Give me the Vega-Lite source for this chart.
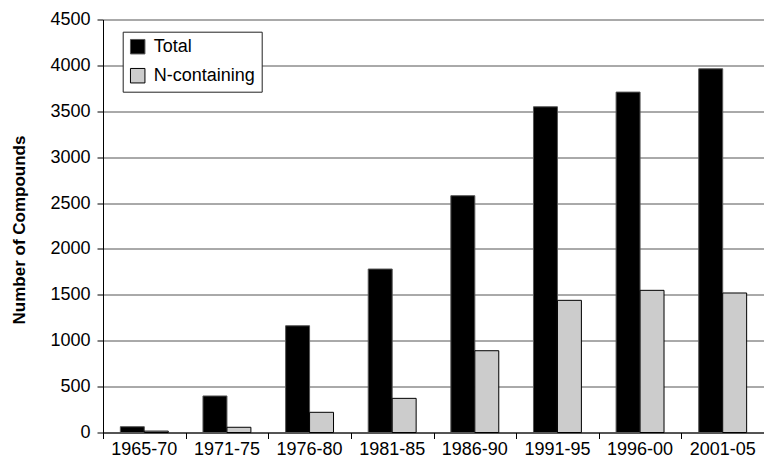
{
  "$schema": "https://vega.github.io/schema/vega-lite/v6.json",
  "width": 661,
  "height": 413,
  "autosize": "none",
  "padding": {"left": 103, "top": 19.5, "right": 0, "bottom": 29.5},
  "background": "white",
  "config": {
    "font": "Liberation Sans",
    "view": {"stroke": null},
    "axis": {"labelFont": "Liberation Sans", "labelColor": "black", "titleColor": "black"}
  },
  "data": {
    "values": [
      {"period": "1965-70", "series": "Total", "count": 63},
      {"period": "1965-70", "series": "N-containing", "count": 15},
      {"period": "1971-75", "series": "Total", "count": 398},
      {"period": "1971-75", "series": "N-containing", "count": 57},
      {"period": "1976-80", "series": "Total", "count": 1163},
      {"period": "1976-80", "series": "N-containing", "count": 220},
      {"period": "1981-85", "series": "Total", "count": 1781},
      {"period": "1981-85", "series": "N-containing", "count": 372},
      {"period": "1986-90", "series": "Total", "count": 2580},
      {"period": "1986-90", "series": "N-containing", "count": 891},
      {"period": "1991-95", "series": "Total", "count": 3549},
      {"period": "1991-95", "series": "N-containing", "count": 1440},
      {"period": "1996-00", "series": "Total", "count": 3709},
      {"period": "1996-00", "series": "N-containing", "count": 1549},
      {"period": "2001-05", "series": "Total", "count": 3963},
      {"period": "2001-05", "series": "N-containing", "count": 1520}
    ]
  },
  "layer": [
    {
      "mark": {"type": "bar", "strokeWidth": 1},
      "encoding": {
        "x": {
          "field": "period",
          "type": "nominal",
          "sort": null,
          "scale": {"paddingInner": 0.42, "paddingOuter": 0.21},
          "axis": {
            "orient": "bottom",
            "title": null,
            "labelAngle": 0,
            "labelFontSize": 18,
            "labelPadding": 8,
            "ticks": false,
            "tickSize": 6,
            "domain": true,
            "domainColor": "black",
            "domainWidth": 1
          }
        },
        "xOffset": {
          "field": "series",
          "type": "nominal",
          "sort": ["Total", "N-containing"],
          "scale": {"paddingInner": 0, "paddingOuter": 0}
        },
        "y": {
          "field": "count",
          "type": "quantitative",
          "scale": {"domain": [0, 4500], "nice": false},
          "axis": {
            "values": [0, 500, 1000, 1500, 2000, 2500, 3000, 3500, 4000, 4500],
            "format": "d",
            "grid": true,
            "gridColor": "#555555",
            "gridWidth": 1,
            "domainColor": "black",
            "tickColor": "black",
            "tickSize": 6,
            "labelFontSize": 18,
            "labelPadding": 7,
            "title": "Number of Compounds",
            "titleFontSize": 17,
            "titleFontWeight": "bold",
            "titleX": -83.5,
            "titleY": 210,
            "titleAlign": "center",
            "titleBaseline": "middle",
            "titleAngle": -90
          }
        },
        "color": {
          "field": "series",
          "type": "nominal",
          "sort": ["Total", "N-containing"],
          "scale": {"domain": ["Total", "N-containing"], "range": ["#000000", "#cccccc"]},
          "legend": {
            "title": null,
            "orient": "none",
            "legendX": 19.7,
            "legendY": 12.2,
            "symbolType": "square",
            "symbolSize": 210,
            "symbolStrokeColor": "black",
            "symbolStrokeWidth": 1,
            "symbolFillColor": null,
            "labelFontSize": 18,
            "labelFont": "Liberation Sans",
            "labelColor": "black",
            "labelOffset": 7,
            "rowPadding": 9,
            "padding": 6,
            "strokeColor": "#222222",
            "fillColor": "white"
          }
        },
        "stroke": {
          "field": "series",
          "type": "nominal",
          "scale": {"domain": ["Total", "N-containing"], "range": ["#555555", "#000000"]},
          "legend": null
        }
      }
    },
    {
      "mark": {"type": "rule", "strokeOpacity": 0},
      "encoding": {
        "x": {
          "field": "period",
          "type": "nominal",
          "sort": null,
          "axis": {
            "orient": "bottom",
            "title": null,
            "labels": false,
            "domain": false,
            "ticks": true,
            "tickSize": 6,
            "tickColor": "black",
            "bandPosition": 0,
            "tickOffset": -17.35
          }
        }
      }
    }
  ],
  "resolve": {"axis": {"x": "independent"}}
}
